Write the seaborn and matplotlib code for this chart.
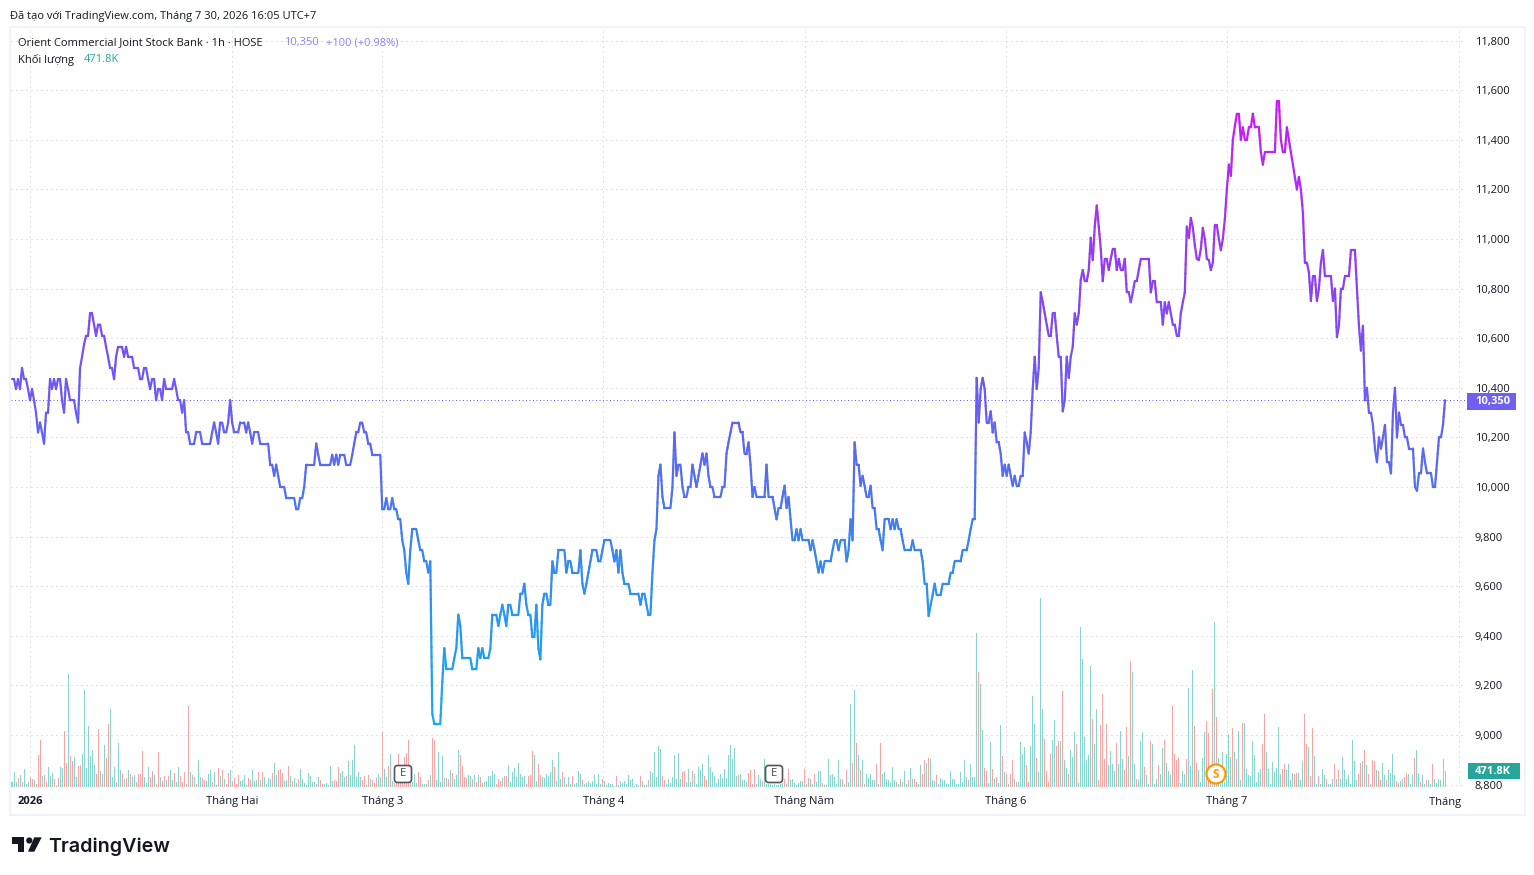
import numpy as np
import pandas as pd
import matplotlib
matplotlib.use('Agg')
import matplotlib.pyplot as plt
import seaborn as sns
from matplotlib.colors import LinearSegmentedColormap
from matplotlib.patches import Circle, FancyBboxPatch, Polygon, Rectangle
from matplotlib.transforms import Bbox, IdentityTransform

# hourly closes
close_jan_mar = [
    10435,10435,10395,10435,10395,10480,10435,10435,10395,10350,
    10395,10350,10300,10220,10260,10220,10175,10300,10300,10435,
    10395,10435,10395,10435,10435,10350,10300,10435,10395,10350,
    10350,10350,10300,10260,10480,10525,10575,10610,10610,10700,
    10700,10655,10610,10655,10655,10610,10610,10565,10525,10480,
    10480,10435,10525,10565,10565,10565,10525,10565,10525,10525,
    10525,10480,10480,10480,10435,10435,10480,10480,10435,10395,
    10435,10435,10350,10395,10395,10350,10435,10395,10395,10395,
    10395,10435,10395,10350,10350,10300,10350,10220,10220,10175,
    10175,10175,10220,10220,10220,10175,10175,10175,10175,10175,
    10220,10260,10220,10175,10260,10260,10220,10220,10260,10350,
    10260,10220,10220,10220,10260,10260,10260,10220,10260,10220,
    10175,10220,10220,10220,10175,10175,10175,10175,10175,10090,
    10090,10045,10090,10045,10000,10000,10000,9955,9955,9955,
    9955,9955,9910,9910,9955,9955,10000,10090,10090,10090,
    10090,10090,10175,10130,10090,10090,10090,10090,10090,10090,
    10130,10090,10130,10090,10130,10130,10130,10090,10090,10090,
    10130,10175,10220,10220,10260,10260,10220,10220,10175,10175,
    10130,10130,10130,10130,10130,9910,9910,9955,9910,9910,
    9955,9910,9910,9870,
]
close_mar_may = [
    9870,9785,9745,9655,9610,9745,9830,9830,9830,9785,
    9745,9745,9700,9700,9655,9700,9085,9045,9045,9045,
    9045,9215,9350,9265,9265,9265,9265,9310,9350,9485,
    9440,9310,9310,9310,9310,9310,9265,9265,9265,9350,
    9310,9350,9310,9310,9310,9350,9485,9485,9485,9440,
    9485,9525,9485,9440,9525,9525,9485,9485,9485,9485,
    9570,9570,9610,9525,9485,9485,9395,9395,9525,9350,
    9305,9525,9570,9570,9525,9525,9700,9655,9655,9745,
    9745,9745,9745,9655,9700,9700,9655,9655,9655,9655,
    9745,9610,9570,9610,9655,9700,9745,9745,9745,9700,
    9700,9745,9785,9785,9785,9785,9745,9700,9745,9655,
    9745,9655,9610,9610,9610,9570,9570,9570,9570,9570,
    9525,9570,9570,9525,9485,9485,9655,9785,9830,10045,
    10090,9960,9915,9915,9915,9915,10000,10220,10045,10090,
    10090,10000,9960,9960,10000,10000,10090,10045,10000,10045,
    10090,10135,10090,10135,10045,10000,10000,9960,9960,9960,
    9960,10000,10000,10135,10180,10220,10260,10260,10260,10260,
    10220,10220,10135,10135,10180,10090,9960,10000,9960,9960,
    9960,9960,9960,10090,9960,
]
close_may_jun = [
    9960,9960,9915,9870,9915,9915,9960,10005,9915,9960,
    9870,9785,9785,9830,9785,9830,9785,9785,9785,9785,
    9745,9785,9745,9700,9655,9700,9655,9700,9700,9700,
    9700,9745,9785,9785,9745,9785,9785,9785,9700,9745,
    9870,9785,10180,10090,10090,10005,10045,10005,9960,9960,
    10005,9915,9915,9830,9830,9785,9745,9870,9870,9870,
    9830,9870,9830,9870,9830,9830,9785,9745,9745,9745,
    9745,9785,9745,9745,9745,9745,9700,9610,9610,9480,
    9525,9565,9610,9565,9565,9565,9610,9610,9610,9610,
    9655,9655,9700,9700,9700,9700,9745,9745,9745,9785,
    9830,9870,9870,10440,10260,10395,10440,10395,10260,10260,
    10305,10220,10260,10180,10180,10135,10045,10090,10045,10090,
    10045,10005,10045,10005,10005,10045,10045,10220,10180,10135,
    10220,10395,10525,10395,10480,10785,10745,10700,10655,10610,
    10610,10700,10700,10610,10525,10525,10305,10350,10525,10440,
    10525,10565,10700,10655,10700,
]
close_jun = [
    10835,10875,10830,10830,10875,11005,10915,11050,11135,11050,
    10960,10830,10920,10920,10875,10920,10960,10960,10875,10920,
    10875,10875,10920,10785,10785,10745,10785,10830,10830,10875,
    10920,10920,10920,10920,10920,10785,10830,10830,10745,10745,
    10745,10655,10745,10700,10745,10700,10655,10655,10610,10610,
    10700,10745,10785,11050,
]
close_jun_jul = [
    11005,11085,11045,10975,10920,10915,10960,11045,11000,10920,
    10915,10875,10905,11055,11055,11000,10955,11000,11080,11200,
    11300,11255,11400,11455,11505,11505,11400,11450,11400,11400,
    11450,11450,11505,11450,11450,11450,11350,11300,11350,11350,
    11350,11350,11350,11350,11555,11555,11400,11350,11350,11450,
    11400,11350,11300,11250,11200,11250,11200,11105,10905,10905,
    10865,10750,10850,10850,10750,10800,10905,10955,10850,10850,
    10850,10850,10750,10800,10605,10650,10800,10800,10850,10850,
    10850,10955,10955,10955,10800,10650,10550,10650,10350,10400,
    10300,10300,10250,10155,10100,10200,10155,10200,10250,10100,
    10100,10055,10300,10400,10200,10300,10250,10250,10200,10200,
    10155,10155,10155,10000,9985,10055,10055,10155,10100,10055,
    10055,10055,10000,10000,10100,10200,10200,10250,10350,
]

# volume per bar in thousands, negative = down bar
volume_jan_mar = [
    150,450,150,-270,350,-150,550,80,150,-300,
    -240,200,-80,-950,-1400,330,-360,-150,600,330,
    420,-250,30,-270,600,570,-1680,-720,3400,-920,
    -780,900,300,-630,-660,1000,2920,570,1820,920,
    1120,650,-380,-1730,470,-380,1270,-870,-1900,2350,
    300,
    600,-150,1330,520,-380,230,-260,500,-380,300,
    360,-150,-380,-400,-1070,300,120,600,-300,-470,
    360,-80,-1050,300,-180,-320,200,-320,500,220,
    -420,150,600,-320,-150,-450,100,-2420,450,-350,
    300,-80,800,300,-260,-220,180,400,500,-150,
    450,50,-570,330,-520,250,-80,-420,500,-180,
    -260,-80,-360,180,200,360,50,-260,-220,500,
    180,220,-450,200,-450,300,80,260,240,-420,
    720,360,-500,-530,-420,180,200,-630,320,-180,
    260,120,-240,530,240,120,50,420,320,150,
    150,-80,300,-220,-80,80,120,50,620,180,
    -220,-180,-600,420,480,300,-330,780,360,820,
    1250,300,450,300,-220,-330,50,-360,250,-220,
    -120,-270,380,300,-1650,530,300,-620,1000,180,
    -120,-250,-980,-250,-250,-900,-1020,-1400,-300,150,
    400,120,-450,-300,80,100,80,-200,360,-1480,
    -1400,200,1050,150,920,-280,260,-250,500,-420,
    250,360,1100,-950,-620,-300,-260,360,330,-250,
    360,-150,360,-300,-120,150,180,320,330,480,
    380,-80,-240,
]
volume_mar_may = [
    -180,260,-330,-330,650,150,450,570,300,720,
    380,300,330,-80,-330,-360,-1080,950,180,-680,
    -360,300,270,380,330,450,800,-600,180,1050,
    240,-450,300,-80,300,80,-330,80,120,480,
    380,-200,80,120,180,120,180,360,80,380,
    100,-240,180,50,120,100,80,30,-320,50,
    180,120,180,80,360,200,240,30,80,50,
    -320,180,50,50,-220,480,420,1050,300,1220,
    1130,-330,-200,80,240,120,300,950,240,1030,
    240,-450,-480,150,530,150,-480,380,80,600,
    520,700,-330,-200,950,600,450,330,120,240,
    400,280,550,280,970,1270,830,1180,320,-350,
    400,200,200,150,-420,-520,-80,-550,80,350,
    250,-180,850,80,80,80,50,80,50,50,
    80,120,-250,100,-550,200,250,120,50,120,
    180,180,-550,80,-280,250,80,-400,150,480,
    480,-120,50,50,850,350,380,300,80,800,
    250,-250,100,-500,150,2500,-720,2900,-1330,950,
    -500,820,-100,400,260,380,220,200,-700,100,
    -1330,400,450,250,220,150,600,200,-150,80,
    250,-150,480,80,-220,580,250,-250,-150,100,
    650,-380,-800,720,-880,850,200,180,-350,100,
    280,220,200,80,80,480,250,250,100,80,
    450,150,800,300,-200,
]
volume_may_jul = [
    700,300,300,4630,-3440,3080,1700,-580,-480,
    120,1350,-550,250,-300,120,1850,-920,450,-380,
    100,-380,-800,250,-150,150,1350,1000,1200,-650,
    -150,1220,2720,1900,-880,450,5680,2330,-1450,-480,
    -150,-1000,1400,2000,-1220,-1370,1370,-2870,800,580,
    -400,1100,900,1650,-1300,120,4800,3830,1500,800,
    950,3620,-2030,1300,2330,-200,-1850,-2800,-850,-1900,
    650,1080,700,480,-1320,680,1680,850,-500,-1800,
    920,-3770,3450,700,-250,200,1370,1650,-600,350,
    100,-1370,1280,80,250,-650,400,1180,-1400,720,
    480,350,-2430,-980,-800,-880,120,480,380,-830,
    2980,620,3500,-1830,-720,500,150,880,1650,-1970,
    -1620,500,-2930,4950,-2100,880,150,1050,150,1000,
    1600,900,-1780,1050,-850,1680,200,-1920,1920,550,
    350,330,1370,970,150,450,550,-1300,-2200,1050,
    550,80,750,450,580,1800,380,-550,-700,500,
    700,220,420,-380,-420,420,220,780,-2200,-1300,
    1200,-330,-1770,920,80,-330,100,530,350,-250,
    80,80,250,-700,250,-500,250,900,500,250,
    350,80,1400,780,220,-400,-720,780,-1100,650,
    -380,80,-800,-780,500,-480,-220,720,350,-220,
    500,420,1000,350,-180,-120,180,250,-300,-420,
    380,80,350,-880,1100,420,-150,350,80,-200,
    200,100,-700,250,120,250,220,850,470,
]

price_ticks = list(range(8800, 12000, 200))
month_bars = [9, 110, 185, 295.5, 396, 496.5, 607, 723]
month_labels = ['2026', 'Tháng Hai', 'Tháng 3', 'Tháng 4', 'Tháng Năm', 'Tháng 6', 'Tháng 7', '']
last_price = 10350

W, H = 1534, 875
PX_PER_BAR = 2.0014
FIRST_BAR_PX = 12


def fx(x):
    return x / W


def fy(y):
    return 1 - y / H


def rounded_marker(cx, cy, letter):
    fig.add_artist(FancyBboxPatch((cx - 7.5, H - cy - 7.5), 15, 15, boxstyle='round,pad=1,rounding_size=3',
                                  fc='white', ec='#555555', lw=1.2, transform=IdentityTransform(), zorder=5))
    fig.text(fx(cx), fy(cy), letter, color='#444444', fontsize=8, ha='center', va='center', zorder=6)


sns.set_theme(style='whitegrid', rc={
    'grid.color': '#c2c6ce',
    'grid.linewidth': 0.72,
    'grid.linestyle': (0, (1, 4)),
    'axes.edgecolor': 'white',
})
plt.rcParams['font.family'] = ['Open Sans', 'DejaVu Sans']
text_col = '#131722'

close = close_jan_mar + close_mar_may + close_may_jun + close_jun + close_jun_jul
volume = volume_jan_mar + volume_mar_may + volume_may_jul

fig = plt.figure(figsize=(W / 100, H / 100), dpi=100, facecolor='white')
ax = fig.add_axes([fx(11), fy(787), fx(1465 - 11), 1 - fy(787 - 28)])
ax_vol = ax.twinx()
ax.set_zorder(ax_vol.get_zorder() + 1)
ax.patch.set_visible(False)
ax_vol.patch.set_visible(False)

# volume histogram
vol_df = pd.DataFrame({
    'bar': np.arange(len(volume)),
    'volume': np.abs(volume),
    'side': ['up' if v >= 0 else 'down' for v in volume],
})
sns.barplot(data=vol_df, x='bar', y='volume', hue='side', palette={'up': '#89d4cb', 'down': '#f8a5a5'},
            native_scale=True, dodge=False, width=0.5, saturation=1, errorbar=None, legend=False,
            linewidth=0, edgecolor='none', ax=ax_vol)
ax_vol.set_ylim(0, 759 * 30)
ax_vol.set_yticks([])
ax_vol.grid(False)
ax_vol.set_xlabel('')
ax_vol.set_ylabel('')

# price line, coloured by price level so steep moves are split in short pieces
price_cmap = LinearSegmentedColormap.from_list('tv_line', [
    (0.0, '#19aaf0'), (0.18, '#2a96ef'), (0.30, '#3c82ef'), (0.38, '#5270f0'), (0.52, '#6b5cf2'),
    (0.66, '#8048f2'), (0.78, '#9b38f2'), (1.0, '#cc1af4'),
])
pieces = []
seg_id = 0
for i in range(len(close) - 1):
    steps = max(1, int(np.ceil(abs(close[i + 1] - close[i]) / 40)))
    xs = np.linspace(i, i + 1, steps + 1)
    ys = np.linspace(close[i], close[i + 1], steps + 1)
    for k in range(steps):
        mid = (ys[k] + ys[k + 1]) / 2
        pieces.append((seg_id, xs[k], ys[k], mid))
        pieces.append((seg_id, xs[k + 1], ys[k + 1], mid))
        seg_id += 1
line_df = pd.DataFrame(pieces, columns=['seg', 'bar', 'price', 'level'])
sns.lineplot(data=line_df, x='bar', y='price', hue='level', units='seg', estimator=None, sort=False,
             palette=price_cmap, hue_norm=(min(close), max(close)), linewidth=1.6, legend=False,
             solid_capstyle='round', ax=ax)
ax.axhline(last_price, color='#6c5cf2', lw=0.72, ls=(0, (1, 2.5)), zorder=1)

ax.set_xlim((11 - FIRST_BAR_PX) / PX_PER_BAR, (1465 - FIRST_BAR_PX) / PX_PER_BAR)
ax.set_ylim(10000 - (787 - 487) / 0.248, 10000 + (487 - 28) / 0.248)
ax.set_xlabel('')
ax.set_ylabel('')
ax.set_xticks(month_bars)
ax.set_xticklabels(month_labels)
ax.set_yticks(price_ticks)
ax.set_yticklabels([f'{p:,}' for p in price_ticks])
ax.tick_params(axis='x', length=0, pad=6.5, labelsize=8, labelcolor=text_col)
ax.tick_params(axis='y', length=0, pad=7, labelsize=8, labelcolor=text_col,
               left=False, labelleft=False, right=False, labelright=True)
ax.get_xticklabels()[0].set_fontweight('bold')
ax.grid(True)
sns.despine(ax=ax, left=True, bottom=True)
sns.despine(ax=ax_vol, left=True, bottom=True)

# the lowest price label runs into the time scale
ax.yaxis.get_major_ticks()[0].label2.set_clip_on(True)
ax.yaxis.get_major_ticks()[0].label2.set_clip_box(Bbox([[1460, H - 790], [W, H - 760]]))

# last month label is cut by the price scale
cut = ax.text(1429, H - 804.5, 'Tháng 8', transform=IdentityTransform(), fontsize=8, color=text_col, va='baseline')
cut.set_clip_on(True)
cut.set_clip_box(Bbox([[1400, 0], [1463, H]]))

# frame round the chart
fig.add_artist(Rectangle((fx(10), fy(815)), fx(1515), 788 / H, fill=False, ec='#f0f3fa', lw=1.5,
                         transform=fig.transFigure, zorder=-1))

# header and legend
fig.text(fx(10), fy(18.5), 'Đã tạo với TradingView.com, Tháng 7 30, 2026 16:05 UTC+7', fontsize=8, color=text_col)
fig.text(fx(18), fy(45.5), 'Orient Commercial Joint Stock Bank · 1h · HOSE', fontsize=8, color=text_col)
fig.text(fx(284), fy(45.5), '10,350', fontsize=8, color='#8f80f5')
fig.text(fx(326), fy(45.5), '+100 (+0.98%)', fontsize=8, color='#8f80f5')
fig.text(fx(18), fy(62.5), 'Khối lượng', fontsize=8, color=text_col)
fig.text(fx(84), fy(62.5), '471.8K', fontsize=8, color='#26a69a')

# price scale tags
fig.add_artist(Rectangle((fx(1467), fy(410)), fx(49), 17 / H, fc='#7060f2', ec='none',
                         transform=fig.transFigure, zorder=5))
fig.text(fx(1475), fy(401.5), f'{last_price:,}', color='white', fontsize=8, fontweight='bold', va='center', zorder=6)
fig.add_artist(Rectangle((fx(1468), fy(779)), fx(52), 16 / H, fc='#26a69a', ec='none',
                         transform=fig.transFigure, zorder=5))
fig.text(fx(1475), fy(771.5), '471.8K', color='white', fontsize=8, fontweight='bold', va='center', zorder=6)

# event markers
rounded_marker(403, 774, 'E')
rounded_marker(774, 774, 'E')
fig.add_artist(Circle((1216, H - 774), 9.5, fc='white', ec='#ff9800', lw=1.6, transform=IdentityTransform(), zorder=5))
fig.text(fx(1216), fy(774), 'S', color='#ff9800', fontsize=8.5, fontweight='bold', ha='center', va='center', zorder=6)

# TradingView logo
logo_col = '#131722'
logo_t = [(12, 837.3), (24, 837.3), (24, 851.7), (18.3, 851.7), (18.3, 843.5), (12, 843.5)]
logo_slant = [(34.3, 837.3), (41.7, 837.3), (34.3, 851.7), (28, 851.7)]
for shape in (logo_t, logo_slant):
    fig.add_artist(Polygon([(x, H - y) for x, y in shape], closed=True, fc=logo_col, ec='none',
                           transform=IdentityTransform()))
fig.add_artist(Circle((29.3, H - 840.5), 3.1, fc=logo_col, ec='none', transform=IdentityTransform()))
fig.text(fx(48.5), fy(852), 'TradingView', fontsize=14.2, fontweight='semibold', family='Inter', color=logo_col)

fig.savefig('out.png', dpi=100)
plt.close(fig)
